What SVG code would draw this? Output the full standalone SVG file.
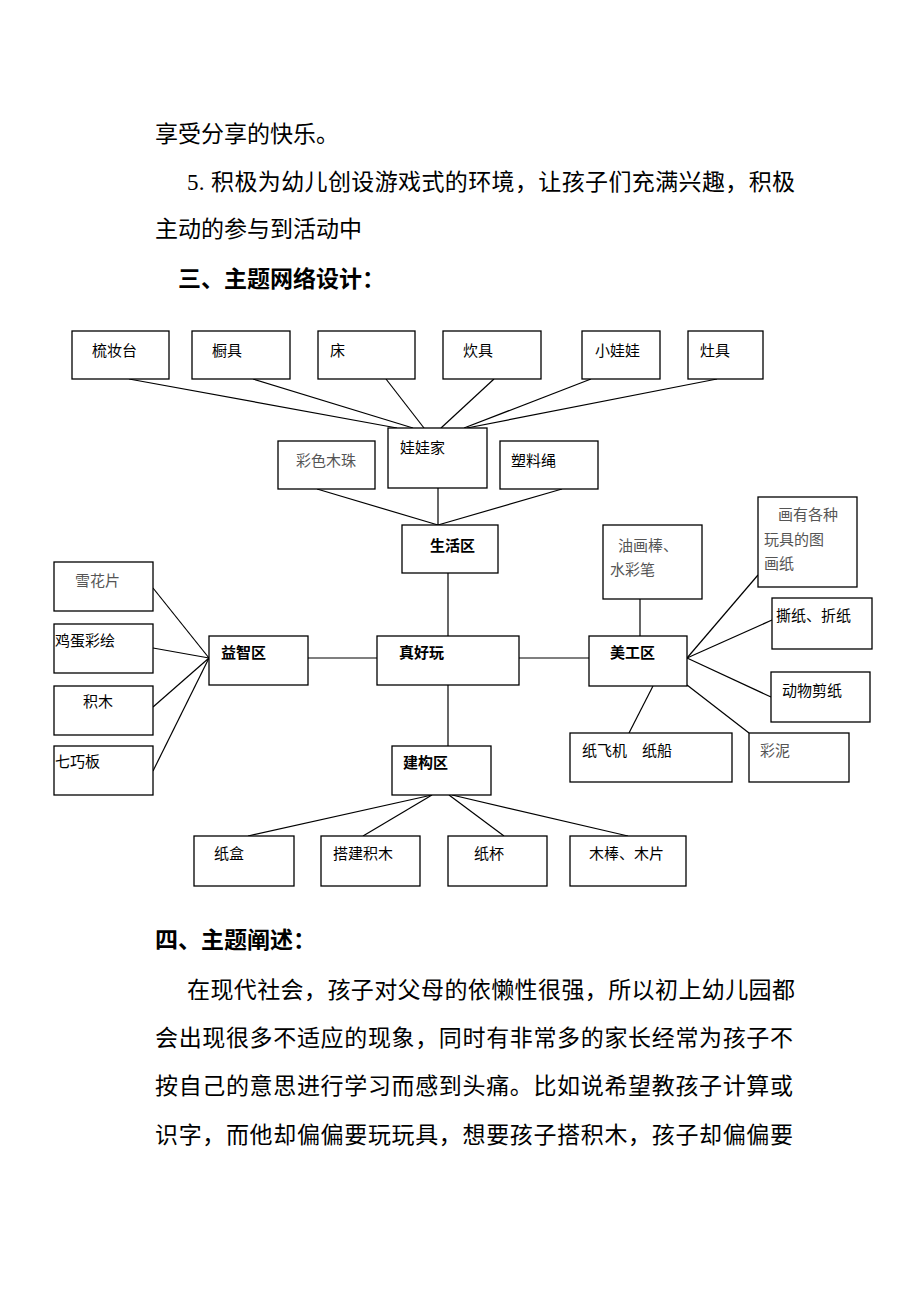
<svg xmlns="http://www.w3.org/2000/svg" width="920" height="1302" viewBox="0 0 920 1302">
<style>
.b{font-family:"Liberation Serif","Noto Sans CJK SC",serif;font-size:23px;fill:#000}
.h{font-weight:bold}
rect{fill:#fff;stroke:#000;stroke-width:1.3}
.t{font-family:"Noto Sans CJK SC",sans-serif;font-size:15px;fill:#000}
.g{fill:#555}
.k{font-weight:bold}
#conn line{stroke:#000;stroke-width:1.2}
</style>
<rect x="0" y="0" width="920" height="1302" style="stroke:none"/>
<text class="b" x="155" y="142">享受分享的快乐。</text>
<text class="b" x="187" y="190" textLength="608">5. 积极为幼儿创设游戏式的环境，让孩子们充满兴趣，积极</text>
<text class="b" x="155" y="237">主动的参与到活动中</text>
<text class="b h" x="178" y="287">三、主题网络设计：</text>
<text class="b h" x="155" y="948">四、主题阐述：</text>
<text class="b" x="187" y="998" textLength="608">在现代社会，孩子对父母的依懒性很强，所以初上幼儿园都</text>
<text class="b" x="155" y="1046" textLength="638">会出现很多不适应的现象，同时有非常多的家长经常为孩子不</text>
<text class="b" x="155" y="1094" textLength="638">按自己的意思进行学习而感到头痛。比如说希望教孩子计算或</text>
<text class="b" x="155" y="1143" textLength="638">识字，而他却偏偏要玩玩具，想要孩子搭积木，孩子却偏偏要</text>
<g id="conn">
<line x1="129" y1="379" x2="397" y2="428"/>
<line x1="253" y1="379" x2="413" y2="428"/>
<line x1="386" y1="379" x2="424" y2="428"/>
<line x1="494" y1="379" x2="441" y2="428"/>
<line x1="591" y1="379" x2="464" y2="428"/>
<line x1="717" y1="379" x2="467" y2="428"/>
<line x1="317" y1="489" x2="438" y2="525"/>
<line x1="562" y1="489" x2="438" y2="525"/>
<line x1="438" y1="488" x2="438" y2="525"/>
<line x1="448" y1="573" x2="448" y2="636"/>
<line x1="448" y1="685" x2="448" y2="746"/>
<line x1="308" y1="658" x2="377" y2="658"/>
<line x1="519" y1="658" x2="589" y2="658"/>
<line x1="209" y1="658" x2="153" y2="588"/>
<line x1="209" y1="658" x2="153" y2="648"/>
<line x1="209" y1="658" x2="153" y2="707"/>
<line x1="209" y1="658" x2="153" y2="771"/>
<line x1="687" y1="658" x2="758" y2="575"/>
<line x1="687" y1="658" x2="772" y2="620"/>
<line x1="687" y1="658" x2="771" y2="697"/>
<line x1="687" y1="685" x2="749" y2="733"/>
<line x1="653" y1="686" x2="629" y2="733"/>
<line x1="640" y1="599" x2="640" y2="636"/>
<line x1="432" y1="795" x2="248" y2="836"/>
<line x1="432" y1="795" x2="363" y2="836"/>
<line x1="449" y1="795" x2="504" y2="836"/>
<line x1="452" y1="795" x2="628" y2="836"/>
</g>
<g id="n1"><rect x="72" y="331" width="97" height="48"/><text class="t" x="92" y="356">梳妆台</text></g>
<g id="n2"><rect x="192" y="331" width="98" height="48"/><text class="t" x="212" y="356">橱具</text></g>
<g id="n3"><rect x="318" y="331" width="97" height="48"/><text class="t" x="330" y="356">床</text></g>
<g id="n4"><rect x="443" y="331" width="98" height="48"/><text class="t" x="463" y="356">炊具</text></g>
<g id="n5"><rect x="582" y="331" width="78" height="48"/><text class="t" x="595" y="356">小娃娃</text></g>
<g id="n6"><rect x="688" y="331" width="75" height="48"/><text class="t" x="700" y="356">灶具</text></g>
<g id="n7"><rect x="388" y="428" width="99" height="60"/><text class="t" x="400" y="453">娃娃家</text></g>
<g id="n8"><rect x="278" y="441" width="97" height="48"/><text class="t g" x="296" y="466">彩色木珠</text></g>
<g id="n9"><rect x="500" y="441" width="98" height="48"/><text class="t" x="511" y="466">塑料绳</text></g>
<g id="n10"><rect x="402" y="525" width="96" height="48"/><text class="t k" x="430" y="551">生活区</text></g>
<g id="n11"><rect x="54" y="562" width="99" height="49"/><text class="t g" x="75" y="586">雪花片</text></g>
<g id="n12"><rect x="54" y="624" width="99" height="49"/><text class="t" x="55" y="646">鸡蛋彩绘</text></g>
<g id="n13"><rect x="54" y="686" width="99" height="49"/><text class="t" x="83" y="707">积木</text></g>
<g id="n14"><rect x="54" y="746" width="99" height="49"/><text class="t" x="55" y="767">七巧板</text></g>
<g id="n15"><rect x="209" y="636" width="99" height="49"/><text class="t k" x="221" y="658">益智区</text></g>
<g id="n16"><rect x="377" y="636" width="142" height="49"/><text class="t k" x="399" y="658">真好玩</text></g>
<g id="n17"><rect x="589" y="636" width="98" height="50"/><text class="t k" x="610" y="658">美工区</text></g>
<g id="n18"><rect x="603" y="525" width="99" height="74"/><text class="t g" x="618" y="551">油画棒、</text><text class="t g" x="610" y="575">水彩笔</text></g>
<g id="n19"><rect x="758" y="497" width="99" height="90"/><text class="t g" x="778" y="520">画有各种</text><text class="t g" x="764" y="545">玩具的图</text><text class="t g" x="764" y="569">画纸</text></g>
<g id="n20"><rect x="772" y="598" width="100" height="51"/><text class="t" x="776" y="621">撕纸、折纸</text></g>
<g id="n21"><rect x="771" y="672" width="99" height="50"/><text class="t" x="782" y="696">动物剪纸</text></g>
<g id="n22"><rect x="570" y="733" width="162" height="49"/><text class="t" x="582" y="756">纸飞机　纸船</text></g>
<g id="n23"><rect x="749" y="733" width="100" height="49"/><text class="t g" x="760" y="756">彩泥</text></g>
<g id="n24"><rect x="392" y="746" width="99" height="49"/><text class="t k" x="403" y="768">建构区</text></g>
<g id="n25"><rect x="194" y="836" width="100" height="50"/><text class="t" x="214" y="859">纸盒</text></g>
<g id="n26"><rect x="321" y="836" width="99" height="50"/><text class="t" x="333" y="859">搭建积木</text></g>
<g id="n27"><rect x="448" y="836" width="99" height="50"/><text class="t" x="474" y="859">纸杯</text></g>
<g id="n28"><rect x="570" y="836" width="116" height="50"/><text class="t" x="589" y="859">木棒、木片</text></g>
</svg>
